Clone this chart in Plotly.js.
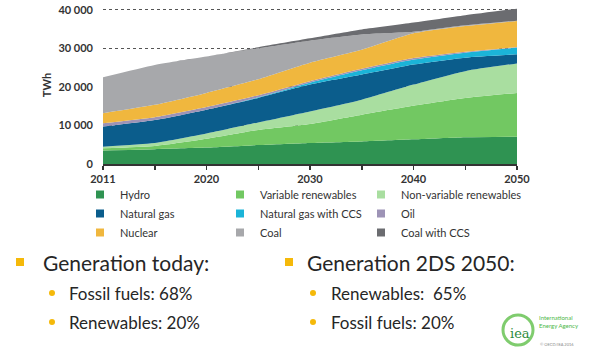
<!DOCTYPE html>
<html>
<head>
<meta charset="utf-8">
<script src="https://cdn.plot.ly/plotly-3.0.1.min.js"></script>
<style>
  html, body { margin: 0; padding: 0; background: #ffffff; }
  #chart { width: 590px; height: 363px; }
</style>
</head>
<body>
<div id="chart"></div>
<script>
// ---- Data (TWh) ----
const years = ['2011', '2015', '2020', '2025', '2030', '2035', '2040', '2045', '2050'];
const yearLabels = ['2011', '', '2020', '', '2030', '', '2040', '', '2050'];
const yTickValues = [0, 10000, 20000, 30000, 40000];
const yTickLabels = ['0', '10 000', '20 000', '30 000', '40 000'];

const hydro                 = [3500, 3850, 4250, 4900, 5450, 5850, 6400, 6950, 7100];
const variableRenewables    = [600, 850, 2300, 3950, 4950, 6950, 8700, 10150, 11350];
const nonVariableRenewables = [400, 750, 1350, 1950, 3250, 3900, 5500, 7000, 7650];
const naturalGas            = [5200, 5950, 6200, 6350, 6950, 6500, 5200, 3500, 2350];
const naturalGasCCS         = [0, 0, 0, 150, 500, 1100, 1300, 1300, 1750];
const oil                   = [900, 750, 700, 550, 400, 400, 400, 250, 150];
const nuclear               = [2600, 3200, 3650, 4150, 4800, 4950, 6400, 6650, 6750];
const coal                  = [9300, 10350, 9450, 8000, 5700, 3950, 400, 200, 100];
const coalCCS               = [0, 0, 0, 300, 600, 1300, 2400, 2600, 3100];

const seriesNames = ['Hydro', 'Variable renewables', 'Non-variable renewables',
  'Natural gas', 'Natural gas with CCS', 'Oil', 'Nuclear', 'Coal', 'Coal with CCS'];
const seriesValues = [hydro, variableRenewables, nonVariableRenewables, naturalGas,
  naturalGasCCS, oil, nuclear, coal, coalCCS];
const seriesColors = ['#2f9352', '#72c862', '#a9dea0', '#0b5d8c', '#1bb4d8',
  '#9d93b6', '#f0b73e', '#a7a8ab', '#6b6c70'];
// legend column for each series (legend rows follow the stacking order)
const legendIds = ['legend', 'legend2', 'legend3', 'legend', 'legend2', 'legend3',
  'legend', 'legend2', 'legend3'];

// ---- Layout geometry ----
const W = 590, H = 363;
const yMax = 41000;
const plotL = 103, plotR = 517, plotB = 164;
const plotT = Math.round(plotB - 154 * yMax / 40000);
const px = x => (x - plotL) / (plotR - plotL);
const py = y => (plotB - y) / (plotB - plotT);

const FONT = 'Lato, "Open Sans", sans-serif';
const TXT = '#262626';
const YELLOW = '#f5b90a';

const traces = [];
seriesNames.forEach((name, i) => {
  traces.push({
    type: 'scatter',
    x: years,
    y: seriesValues[i],
    name: name,
    stackgroup: 'one',
    mode: 'none',
    fillcolor: seriesColors[i],
    line: {width: 0, shape: 'spline', smoothing: 0.6},
    showlegend: false,
    hoverinfo: 'skip'
  });
});
// legend-only entries (square swatches like the original)
seriesNames.forEach((name, i) => {
  traces.push({
    type: 'scatter',
    x: [null],
    y: [null],
    name: name,
    mode: 'markers',
    marker: {symbol: 'square', size: 8, color: seriesColors[i]},
    legend: legendIds[i],
    showlegend: true
  });
});

const legendBase = {
  orientation: 'v',
  traceorder: 'normal',
  yanchor: 'top',
  y: py(180),
  xanchor: 'left',
  bgcolor: 'rgba(0,0,0,0)',
  borderwidth: 0,
  itemwidth: 30,
  font: {family: FONT, size: 11, color: '#333333'}
};

const annotations = [
  {text: 'Generation today:', x: px(41), y: py(262), size: 21},
  {text: 'Fossil fuels: 68%', x: px(67), y: py(293), size: 17},
  {text: 'Renewables: 20%', x: px(67), y: py(322), size: 17},
  {text: 'Generation 2DS 2050:', x: px(305), y: py(262), size: 21},
  {text: 'Renewables:&nbsp; 65%', x: px(329), y: py(293), size: 17},
  {text: 'Fossil fuels: 20%', x: px(329), y: py(322), size: 17}
].map(a => ({
  text: a.text, x: a.x, y: a.y, xref: 'paper', yref: 'paper',
  xanchor: 'left', yanchor: 'middle', showarrow: false,
  font: {family: FONT, size: a.size, color: TXT}
}));

// IEA logo texts
annotations.push(
  {text: 'iea', x: px(520), y: py(333), xref: 'paper', yref: 'paper', xanchor: 'center',
   yanchor: 'middle', showarrow: false,
   font: {family: '"DejaVu Serif", serif', size: 13, color: '#2e8b3e'}},
  {text: 'International<br>Energy Agency', x: px(537), y: py(321), xref: 'paper', yref: 'paper',
   xanchor: 'left', yanchor: 'middle', showarrow: false, align: 'left',
   font: {family: FONT, size: 6, color: '#4db848'}},
  {text: '© OECD/IEA 2016', x: px(538), y: py(344), xref: 'paper', yref: 'paper',
   xanchor: 'left', yanchor: 'middle', showarrow: false,
   font: {family: FONT, size: 4, color: '#888888'}}
);

const shapes = [];
// square bullets
[[20, 262], [289, 262]].forEach(([cx, cy]) => {
  shapes.push({type: 'rect', xref: 'paper', yref: 'paper',
    x0: px(cx - 4), x1: px(cx + 4), y0: py(cy + 4), y1: py(cy - 4),
    fillcolor: YELLOW, line: {width: 0}});
});
// round bullets
[[52, 293], [52, 322], [313, 293], [313, 322]].forEach(([cx, cy]) => {
  shapes.push({type: 'circle', xref: 'paper', yref: 'paper',
    x0: px(cx - 3), x1: px(cx + 3), y0: py(cy + 3), y1: py(cy - 3),
    fillcolor: YELLOW, line: {width: 0}});
});
// logo ring
shapes.push({type: 'circle', xref: 'paper', yref: 'paper',
  x0: px(503), x1: px(533), y0: py(345), y1: py(315),
  fillcolor: 'rgba(0,0,0,0)', line: {color: '#7fcc6e', width: 3}});

const layout = {
  width: W, height: H,
  margin: {l: plotL, r: W - plotR, t: plotT, b: H - plotB, pad: 0},
  paper_bgcolor: '#ffffff',
  plot_bgcolor: '#ffffff',
  showlegend: true,
  xaxis: {
    type: 'category',
    range: [0, years.length - 1],
    tickmode: 'array',
    tickvals: years,
    ticktext: yearLabels,
    showgrid: false,
    zeroline: false,
    showline: true,
    linecolor: '#333333',
    linewidth: 1.5,
    ticks: 'outside',
    ticklen: 4,
    tickwidth: 1.5,
    tickcolor: '#333333',
    tickfont: {family: FONT, size: 11, color: '#333333', weight: 'bold'},
    fixedrange: true
  },
  yaxis: {
    range: [0, yMax],
    tickmode: 'array',
    tickvals: yTickValues,
    ticktext: yTickLabels,
    showgrid: true,
    gridcolor: '#555555',
    griddash: 'dot',
    gridwidth: 1,
    zeroline: false,
    showline: false,
    ticks: '',
    ticklabelstandoff: 9,
    tickfont: {family: FONT, size: 11, color: '#333333', weight: 'bold'},
    title: {text: 'TWh', standoff: 4, font: {family: FONT, size: 11, color: '#333333', weight: 'bold'}},
    fixedrange: true
  },
  legend: Object.assign({}, legendBase, {x: px(80)}),
  legend2: Object.assign({}, legendBase, {x: px(220)}),
  legend3: Object.assign({}, legendBase, {x: px(361)}),
  annotations: annotations,
  shapes: shapes
};

Plotly.newPlot('chart', traces, layout, {staticPlot: true, displayModeBar: false});
</script>
</body>
</html>
